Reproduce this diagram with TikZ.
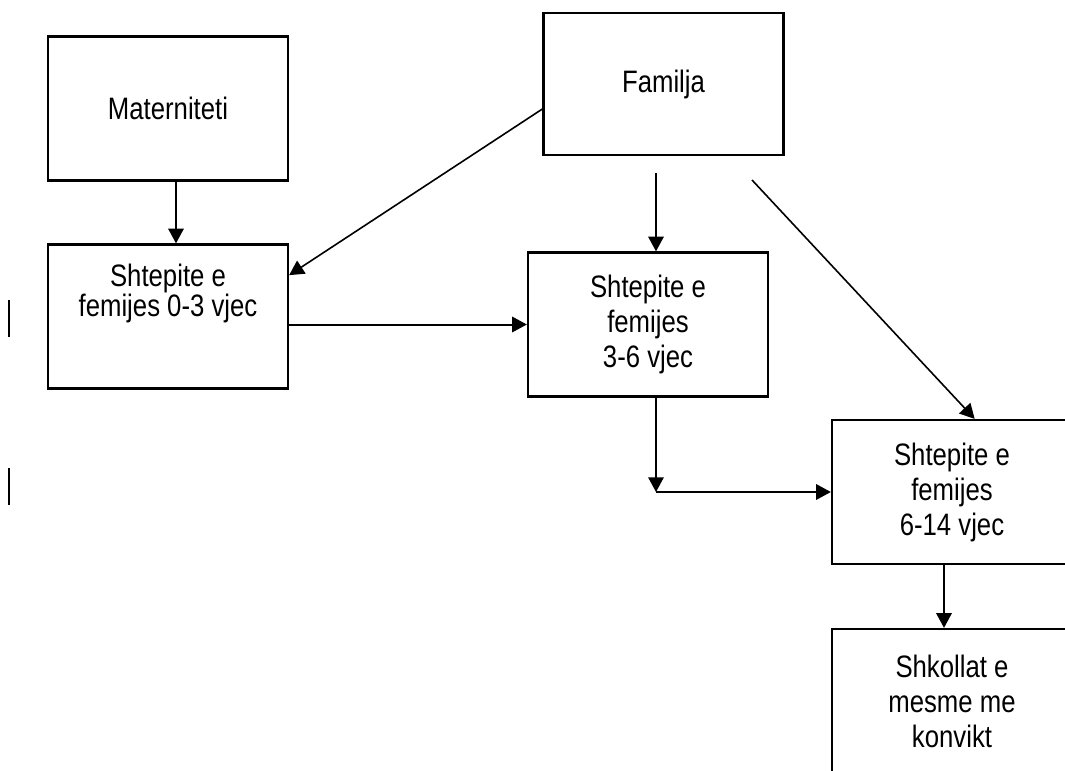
\documentclass[tikz,border=0pt]{standalone}
\usepackage{fontspec}
\setmainfont{Liberation Sans}
\newfontfamily\narrowsans[FakeStretch=0.83]{Liberation Sans}
\usepackage{tikz}
\usetikzlibrary{arrows.meta}

\newcommand{\boxfont}{\narrowsans\fontsize{23.25}{26.25}\selectfont}

\tikzset{
  box/.style={draw, line width=1.7pt, minimum width=180pt, minimum height=108pt,
    inner sep=0pt, align=center, font=\boxfont},
  lbl/.style={inner sep=0pt, align=center, font=\narrowsans\fontsize{23.25}{22}\selectfont},
  link/.style={line width=1.5pt, -{Triangle[length=11pt,width=11.5pt]}},
  thin link/.style={link, line width=1.2pt}
}

\begin{document}
\begin{tikzpicture}[x=0.75pt,y=-0.75pt]
  \useasboundingbox (0,0) rectangle (1065,771);
  \clip (0,0) rectangle (1065,771);

  % --------------------
  % Boxes
  % --------------------
  \node[box] (mat) at (168,108.5) {Materniteti};
  \node[box, minimum height=106.5pt] (fam) at (663.5,84) {Familja};
  \node[box, label={[lbl, anchor=north, yshift=-15.5pt]north:{Shtepite e\\femijes 0-3 vjec}}] (f03) at (168,316.5) {};
  \node[box] (f36) at (648,324.5) {Shtepite e\\femijes\\3-6 vjec};
  \node[box] (f614) at (952,492) {Shtepite e\\femijes\\6-14 vjec};
  \node[box] (shk) at (952,701) {Shkollat e\\mesme me\\konvikt};

  % free ends of the arrows from Familja
  \coordinate (famdown) at (656,173);
  \coordinate (famdiag) at (752,180);

  % --------------------
  % Arrows
  % --------------------
  \draw[link] ([xshift=6pt]mat.south) -- ([xshift=6pt]f03.north);
  \draw[thin link] ([yshift=-18.75pt]fam.west) -- ([yshift=31pt]f03.east);
  \draw[link] (famdown) -- (famdown |- f36.north);
  \draw[thin link] (famdiag) -- ([xshift=17pt]f614.north);
  \draw[link] (f03.east |- f36.west) -- (f36.west);

  \coordinate (turn) at ([xshift=6pt]f36.south |- f614.west);
  \draw[link] ([xshift=6pt]f36.south) -- (turn);
  \draw[link] (turn) -- (f614.west);
  \draw[link] ([xshift=-6pt]f614.south) -- ([xshift=-6pt]shk.north);

  % stray bars at the left margin
  \draw[line width=1.5pt] (9,300) -- (9,337);
  \draw[line width=1.5pt] (9,468) -- (9,505);

\end{tikzpicture}
\end{document}
